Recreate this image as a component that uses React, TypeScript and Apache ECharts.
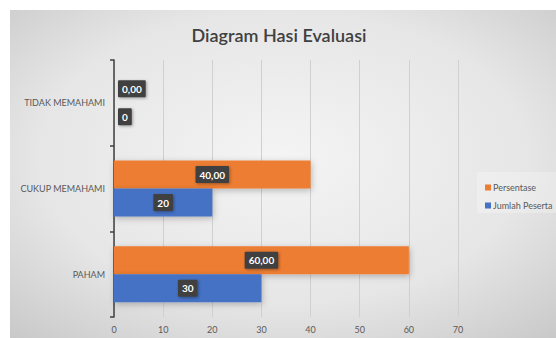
import React, { useEffect, useRef } from "react";
import * as echarts from "echarts";

const categories = ["PAHAM", "CUKUP MEMAHAMI", "TIDAK MEMAHAMI"];
const jumlahPeserta = [30, 20, 0];
const persentase = [60, 40, 0];
const xTicks = { min: 0, max: 70, interval: 10 };

const labelBox = {
  show: true,
  color: "#ffffff",
  fontWeight: "bold" as const,
  fontSize: 10,
  fontFamily: "Lato, 'Open Sans', sans-serif",
  backgroundColor: "#404040",
  padding: [4, 4, 3, 4],
  borderRadius: 1,
  shadowColor: "rgba(0,0,0,0.35)",
  shadowBlur: 3,
  shadowOffsetX: 1,
  shadowOffsetY: 1,
};

function withZeroLabels(values: number[]) {
  return values.map((v) =>
    v === 0 ? { value: v, label: { position: "right", distance: 4 } } : v
  );
}

export default function App() {
  const ref = useRef<HTMLDivElement>(null);
  useEffect(() => {
    if (!ref.current) return;
    const chart = echarts.init(ref.current, null, { renderer: "svg" });
    chart.setOption({
      animation: false,
      backgroundColor: "#ffffff",
      textStyle: { fontFamily: "Lato, 'Open Sans', sans-serif" },
      graphic: [
        {
          type: "rect",
          z: -10,
          silent: true,
          shape: { x: 10, y: 10, width: 546, height: 328 },
          style: {
            fill: new echarts.graphic.RadialGradient(0.5, 0.45, 0.75, [
              { offset: 0, color: "#f4f4f4" },
              { offset: 0.6, color: "#e6e6e6" },
              { offset: 1, color: "#c8c8c8" },
            ]),
          },
        },
        {
          type: "rect",
          z: -9,
          silent: true,
          shape: { x: 477, y: 172, width: 79, height: 41 },
          style: { fill: "rgba(255,255,255,0.25)" },
        },
      ],
      title: {
        text: "Diagram Hasi Evaluasi",
        left: 274,
        textAlign: "center",
        top: 21,
        textStyle: {
          fontSize: 18,
          fontWeight: 600,
          color: "#404040",
          fontFamily: "Lato, 'Open Sans', sans-serif",
        },
      },
      legend: {
        orient: "vertical",
        left: 480,
        top: 178,
        itemWidth: 6,
        itemHeight: 6,
        itemGap: 9,
        icon: "rect",
        data: ["Persentase", "Jumlah Peserta"],
        textStyle: { fontSize: 9, color: "#595959", padding: [0, 0, 0, -3] },
      },
      grid: { left: 114, right: 98, top: 60, bottom: 21 },
      xAxis: {
        type: "value",
        min: xTicks.min,
        max: xTicks.max,
        interval: xTicks.interval,
        axisLine: { show: false },
        axisTick: { show: false },
        axisLabel: { color: "#595959", fontSize: 9, margin: 8 },
        splitLine: { lineStyle: { color: "#d0d0d0", width: 1 } },
      },
      yAxis: {
        type: "category",
        data: categories,
        axisLine: { show: true, lineStyle: { color: "#404040", width: 1.5 } },
        axisTick: { show: true, length: 4, lineStyle: { color: "#404040", width: 1.5 } },
        axisLabel: { color: "#595959", fontSize: 9, margin: 9 },
      },
      series: [
        {
          name: "Persentase",
          type: "bar",
          data: withZeroLabels(persentase),
          barWidth: 28,
          barGap: "0%",
          itemStyle: {
            color: "#ED7D31",
            shadowColor: "rgba(0,0,0,0.25)",
            shadowBlur: 6,
            shadowOffsetX: 1,
            shadowOffsetY: 2,
          },
          label: {
            ...labelBox,
            position: "inside",
            formatter: (p: any) => Number(p.value).toFixed(2).replace(".", ","),
          },
        },
        {
          name: "Jumlah Peserta",
          type: "bar",
          data: withZeroLabels(jumlahPeserta),
          barWidth: 28,
          barGap: "0%",
          itemStyle: {
            color: "#4472C4",
            shadowColor: "rgba(0,0,0,0.25)",
            shadowBlur: 6,
            shadowOffsetX: 1,
            shadowOffsetY: 2,
          },
          label: { ...labelBox, position: "inside" },
        },
      ],
    });
    return () => chart.dispose();
  }, []);
  return (
    <div
      ref={ref}
      style={{ position: "absolute", left: 0, top: 0, width: 556, height: 338 }}
    />
  );
}
